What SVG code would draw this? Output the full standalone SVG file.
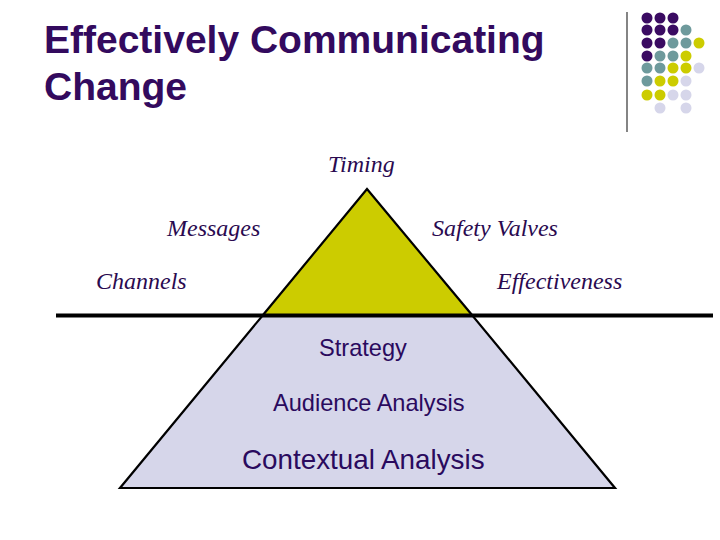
<svg xmlns="http://www.w3.org/2000/svg" width="720" height="540" viewBox="0 0 720 540">
<style>
.title{font-family:"Liberation Sans",Arial,sans-serif;font-weight:bold;font-size:39px;fill:#330a5e}
.it{font-family:"Liberation Serif","Times New Roman",serif;font-style:italic;font-size:24px;fill:#2a0a50}
.lab{font-family:"Liberation Sans",Arial,sans-serif;font-size:23.6px;fill:#2a0a5e}
.p{fill:#3a0b62}.t{fill:#6e9a9c}.y{fill:#cccc00}.l{fill:#d6d6ea}
</style>
<rect width="720" height="540" fill="#ffffff"/>
<g id="title">
<text class="title" x="44" y="53">Effectively Communicating</text>
<text class="title" x="44" y="100">Change</text>
</g>
<g id="decor">
<line x1="627" y1="12" x2="627" y2="132" stroke="#333" stroke-width="1.2"/>
<g>
<circle class="p" cx="647" cy="18" r="5.5"/><circle class="p" cx="660" cy="18" r="5.5"/><circle class="p" cx="673" cy="18" r="5.5"/>
<circle class="p" cx="647" cy="30" r="5.5"/><circle class="p" cx="660" cy="30" r="5.5"/><circle class="p" cx="673" cy="30" r="5.5"/><circle class="t" cx="686" cy="30" r="5.5"/>
<circle class="p" cx="647" cy="43" r="5.5"/><circle class="p" cx="660" cy="43" r="5.5"/><circle class="t" cx="673" cy="43" r="5.5"/><circle class="t" cx="686" cy="43" r="5.5"/><circle class="y" cx="699" cy="43" r="5.5"/>
<circle class="p" cx="647" cy="56" r="5.5"/><circle class="t" cx="660" cy="56" r="5.5"/><circle class="t" cx="673" cy="56" r="5.5"/><circle class="y" cx="686" cy="56" r="5.5"/>
<circle class="t" cx="647" cy="68" r="5.5"/><circle class="t" cx="660" cy="68" r="5.5"/><circle class="y" cx="673" cy="68" r="5.5"/><circle class="y" cx="686" cy="68" r="5.5"/><circle class="l" cx="699" cy="68" r="5.5"/>
<circle class="t" cx="647" cy="81" r="5.5"/><circle class="y" cx="660" cy="81" r="5.5"/><circle class="y" cx="673" cy="81" r="5.5"/><circle class="l" cx="686" cy="81" r="5.5"/>
<circle class="y" cx="647" cy="95" r="5.5"/><circle class="y" cx="660" cy="95" r="5.5"/><circle class="l" cx="673" cy="95" r="5.5"/><circle class="l" cx="686" cy="95" r="5.5"/>
<circle class="l" cx="660" cy="108" r="5.5"/><circle class="l" cx="686" cy="108" r="5.5"/>
</g>
</g>
<g id="pyramid-base">
<polygon points="263,315 472,315 615,488 120,488" fill="#d6d6ea" stroke="#000" stroke-width="2.2"/>
</g>
<g id="pyramid-top">
<polygon points="367,189 472,315 263,315" fill="#cccc00" stroke="#000" stroke-width="2.2"/>
</g>
<g id="connectors">
<line x1="56" y1="315.5" x2="713" y2="315.5" stroke="#000" stroke-width="4"/>
</g>
<g id="labels-top">
<text class="it" x="328" y="172">Timing</text>
<text class="it" x="167" y="236">Messages</text>
<text class="it" x="432" y="236">Safety Valves</text>
<text class="it" x="96" y="289">Channels</text>
<text class="it" x="497" y="289">Effectiveness</text>
</g>
<g id="labels-bottom">
<text class="lab" x="319" y="356">Strategy</text>
<text class="lab" x="273" y="411">Audience Analysis</text>
<text class="lab" x="242" y="469" style="font-size:27.8px">Contextual Analysis</text>
</g>
</svg>
